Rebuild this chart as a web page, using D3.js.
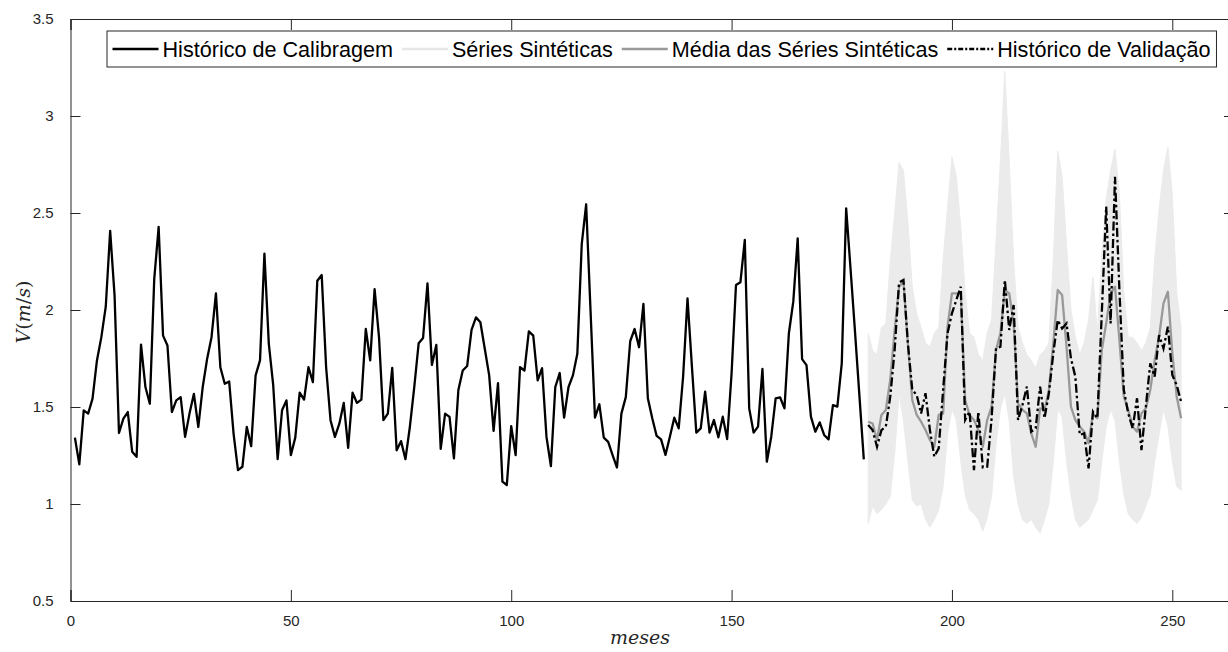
<!DOCTYPE html>
<html>
<head>
<meta charset="utf-8">
<script src="https://cdnjs.cloudflare.com/ajax/libs/d3/7.8.5/d3.min.js"></script>
<style>
  body { margin: 0; background: #fff; }
  svg { display: block; }
</style>
</head>
<body>
<svg id="chart"></svg>
<script>
// monthly wind speed, calibration period (months 1-180)
const calibMonths = d3.range(1, 181);
const calibValues = [
  1.342, 1.204, 1.483, 1.466, 1.543, 1.740, 1.860, 2.017, 2.408, 2.074, 1.366, 1.440,
  1.474, 1.269, 1.243, 1.822, 1.603, 1.517, 2.159, 2.428, 1.868, 1.817, 1.474, 1.534,
  1.551, 1.346, 1.466, 1.568, 1.397, 1.603, 1.748, 1.860, 2.086, 1.705, 1.620, 1.632,
  1.363, 1.175, 1.192, 1.397, 1.298, 1.663, 1.740, 2.291, 1.825, 1.611, 1.231, 1.483,
  1.534, 1.252, 1.342, 1.574, 1.538, 1.705, 1.628, 2.151, 2.180, 1.705, 1.432, 1.346,
  1.414, 1.521, 1.289, 1.574, 1.521, 1.538, 1.902, 1.740, 2.108, 1.860, 1.432, 1.466,
  1.702, 1.277, 1.324, 1.231, 1.397, 1.603, 1.829, 1.856, 2.137, 1.717, 1.820, 1.284,
  1.466, 1.449, 1.235, 1.586, 1.688, 1.711, 1.897, 1.962, 1.937, 1.800, 1.663, 1.377,
  1.623, 1.115, 1.098, 1.401, 1.252, 1.705, 1.688, 1.890, 1.868, 1.637, 1.700, 1.346,
  1.195, 1.603, 1.675, 1.445, 1.603, 1.663, 1.774, 2.339, 2.545, 1.995, 1.445, 1.514,
  1.342, 1.320, 1.252, 1.188, 1.466, 1.551, 1.839, 1.902, 1.808, 2.031, 1.545, 1.442,
  1.351, 1.333, 1.253, 1.347, 1.445, 1.390, 1.656, 2.060, 1.708, 1.368, 1.390, 1.579,
  1.368, 1.433, 1.344, 1.450, 1.335, 1.674, 2.129, 2.143, 2.361, 1.493, 1.368, 1.399,
  1.696, 1.218, 1.347, 1.545, 1.550, 1.493, 1.880, 2.043, 2.369, 1.747, 1.716, 1.450,
  1.373, 1.421, 1.356, 1.333, 1.510, 1.502, 1.725, 2.524, 2.210, 1.890, 1.560, 1.230
];

// validation period (months 181-252)
const validMonths = d3.range(181, 253);
const validValues = [
  1.407, 1.381, 1.295, 1.381, 1.399, 1.553, 1.794, 2.141, 2.155, 1.828, 1.588, 1.562,
  1.467, 1.571, 1.381, 1.244, 1.287, 1.588, 1.880, 1.983, 2.052, 2.120, 1.433, 1.476,
  1.175, 1.476, 1.189, 1.192, 1.442, 1.802, 1.811, 2.155, 1.897, 2.026, 1.433, 1.510,
  1.605, 1.373, 1.390, 1.605, 1.442, 1.571, 1.777, 1.948, 1.905, 1.931, 1.751, 1.656,
  1.356, 1.364, 1.184, 1.476, 1.442, 1.983, 2.533, 1.931, 2.687, 2.103, 1.588, 1.467,
  1.390, 1.545, 1.278, 1.502, 1.725, 1.656, 1.871, 1.802, 1.914, 1.665, 1.613, 1.527
];

// mean of the synthetic series
const meanValues = [
  1.424, 1.415, 1.330, 1.459, 1.485, 1.639, 1.897, 2.120, 2.146, 1.828, 1.536, 1.459,
  1.424, 1.381, 1.330, 1.295, 1.459, 1.467, 1.914, 2.086, 2.086, 2.086, 1.536, 1.459,
  1.433, 1.381, 1.295, 1.433, 1.502, 1.794, 1.880, 2.103, 2.086, 1.931, 1.519, 1.485,
  1.467, 1.364, 1.295, 1.493, 1.485, 1.588, 1.828, 2.103, 2.077, 1.811, 1.502, 1.433,
  1.399, 1.373, 1.313, 1.467, 1.442, 1.794, 1.931, 2.086, 2.120, 1.845, 1.553, 1.485,
  1.399, 1.373, 1.467, 1.493, 1.588, 1.742, 1.862, 2.034, 2.094, 1.777, 1.553, 1.442
];

// spread of the synthetic series: max and min per month
const synthMax = [
  1.88, 1.79, 1.77, 1.91, 1.93, 2.25, 2.50, 2.76, 2.72, 2.46, 2.12, 1.98,
  1.91, 1.83, 1.81, 1.88, 1.91, 2.26, 2.53, 2.79, 2.69, 2.43, 2.09, 1.88,
  1.86, 1.77, 1.74, 1.88, 1.95, 2.36, 2.77, 3.23, 2.77, 2.26, 1.91, 1.83,
  1.77, 1.74, 1.70, 1.77, 1.79, 1.83, 2.26, 2.82, 2.69, 2.34, 2.00, 1.86,
  1.77, 1.83, 1.95, 2.17, 1.88, 2.29, 2.57, 2.72, 2.83, 2.60, 2.09, 1.86,
  1.86, 1.83, 1.79, 1.83, 1.91, 2.26, 2.52, 2.72, 2.84, 2.60, 2.09, 1.91
];
const synthMin = [
  0.90, 0.99, 0.95, 0.97, 1.00, 1.04, 1.26, 1.57, 1.43, 1.22, 1.02, 0.99,
  1.00, 0.92, 0.88, 0.92, 0.97, 1.09, 1.36, 1.49, 1.43, 1.22, 1.05, 0.97,
  0.95, 0.92, 0.86, 0.93, 1.04, 1.31, 1.49, 1.57, 1.43, 1.14, 1.00, 0.92,
  0.90, 0.92, 0.88, 0.85, 0.92, 1.00, 1.22, 1.49, 1.45, 1.22, 1.05, 0.92,
  0.88, 0.90, 0.92, 0.97, 1.02, 1.22, 1.40, 1.49, 1.43, 1.22, 1.05, 0.95,
  0.92, 0.90, 0.93, 0.99, 1.05, 1.22, 1.36, 1.49, 1.40, 1.22, 1.09, 1.07
];

const xTicks = [0, 50, 100, 150, 200, 250];
const yTicks = [0.5, 1, 1.5, 2, 2.5, 3, 3.5];

const legendLabels = [
  "Histórico de Calibragem",
  "Séries Sintéticas",
  "Média das Séries Sintéticas",
  "Histórico de Validação"
];

const W = 1228, H = 652;
const plotLeft = 70.5, plotRight = 1234, plotTop = 19, plotBottom = 601;
const axisColor = "#262626";

const svg = d3.select("#chart").attr("width", W).attr("height", H);

const x = d3.scaleLinear().domain([0, 264]).range([plotLeft, plotRight]);
const y = d3.scaleLinear().domain([0.5, 3.5]).range([plotBottom, plotTop]);

svg.append("clipPath").attr("id", "plotclip")
  .append("rect")
  .attr("x", plotLeft).attr("y", plotTop)
  .attr("width", plotRight - plotLeft).attr("height", plotBottom - plotTop);

const plot = svg.append("g").attr("clip-path", "url(#plotclip)");

// synthetic band
const band = d3.area()
  .x(function(d) { return x(d.m); })
  .y0(function(d) { return y(d.lo); })
  .y1(function(d) { return y(d.hi); });

const bandData = validMonths.map(function(m, i) {
  return { m: m, lo: synthMin[i], hi: synthMax[i] };
});

plot.append("path")
  .datum(bandData)
  .attr("d", band)
  .attr("fill", "#ebebeb")
  .attr("stroke", "#ebebeb")
  .attr("stroke-width", 1);

const line = d3.line()
  .x(function(d) { return x(d[0]); })
  .y(function(d) { return y(d[1]); });

plot.append("path")
  .datum(d3.zip(calibMonths, calibValues))
  .attr("d", line)
  .attr("fill", "none")
  .attr("stroke", "#000")
  .attr("stroke-width", 2.3)
  .attr("stroke-linejoin", "round");

plot.append("path")
  .datum(d3.zip(validMonths, meanValues))
  .attr("d", line)
  .attr("fill", "none")
  .attr("stroke", "#999")
  .attr("stroke-width", 2.3)
  .attr("stroke-linejoin", "round");

plot.append("path")
  .datum(d3.zip(validMonths, validValues))
  .attr("d", line)
  .attr("fill", "none")
  .attr("stroke", "#000")
  .attr("stroke-width", 2.3)
  .attr("stroke-dasharray", "9,3,2.5,3");

// axes, box style with inward ticks
const font = "'Liberation Sans', Arial, Helvetica, sans-serif";

const xAxis = d3.axisBottom(x).tickValues(xTicks).tickSize(-11).tickPadding(14);
const xAxisTop = d3.axisTop(x).tickValues(xTicks).tickSize(-11).tickFormat("");
const yAxis = d3.axisLeft(y).tickValues(yTicks).tickSize(-10).tickPadding(17)
  .tickFormat(d3.format("~g"));
const yAxisRight = d3.axisRight(y).tickValues(yTicks).tickSize(-10).tickFormat("");

function styleAxis(g) {
  g.select(".domain").attr("stroke", axisColor).attr("stroke-width", 1);
  g.selectAll(".tick line").attr("stroke", axisColor).attr("stroke-width", 1);
  g.selectAll(".tick text")
    .attr("fill", axisColor)
    .style("font-family", font)
    .style("font-size", "15px");
}

svg.append("g").attr("transform", "translate(0," + plotBottom + ")").call(xAxis).call(styleAxis);
svg.append("g").attr("transform", "translate(0," + plotTop + ")").call(xAxisTop).call(styleAxis);
svg.append("g").attr("transform", "translate(" + plotLeft + ",0)").call(yAxis).call(styleAxis);
svg.append("g").attr("transform", "translate(" + plotRight + ",0)").call(yAxisRight).call(styleAxis);

// axis titles
svg.append("text")
  .attr("x", 640).attr("y", 644)
  .attr("text-anchor", "middle")
  .style("font-family", "'DejaVu Serif', 'Liberation Serif', serif")
  .style("font-style", "italic")
  .style("font-size", "19px")
  .attr("fill", axisColor)
  .text("meses");

const ylab = svg.append("text")
  .attr("transform", "translate(30,312) rotate(-90)")
  .attr("text-anchor", "middle")
  .style("font-family", "'DejaVu Serif', 'Liberation Serif', serif")
  .style("font-size", "19px")
  .attr("fill", axisColor);
ylab.append("tspan").style("font-style", "italic").text("V");
ylab.append("tspan").text("(");
ylab.append("tspan").style("font-style", "italic").text("m");
ylab.append("tspan").text("/");
ylab.append("tspan").style("font-style", "italic").text("s");
ylab.append("tspan").text(")");

// legend
const legendStyles = [
  { stroke: "#000", dash: null },
  { stroke: "#e6e6e6", dash: null },
  { stroke: "#999", dash: null },
  { stroke: "#000", dash: "5,2,2,2" }
];

const legend = svg.append("g");
const legendBox = legend.append("rect")
  .attr("x", 107).attr("y", 31)
  .attr("height", 36)
  .attr("fill", "#fff")
  .attr("stroke", axisColor)
  .attr("stroke-width", 1);

let cursor = 112.5;
legendLabels.forEach(function(label, i) {
  legend.append("line")
    .attr("x1", cursor).attr("x2", cursor + 46)
    .attr("y1", 49).attr("y2", 49)
    .attr("stroke", legendStyles[i].stroke)
    .attr("stroke-width", 2.3)
    .attr("stroke-dasharray", legendStyles[i].dash);
  const t = legend.append("text")
    .attr("x", cursor + 50).attr("y", 56.5)
    .style("font-family", font)
    .style("font-size", "21.6px")
    .attr("fill", "#000")
    .text(label);
  cursor += 50 + t.node().getComputedTextLength() + 9;
});
legendBox.attr("width", cursor - 110);
</script>
</body>
</html>
